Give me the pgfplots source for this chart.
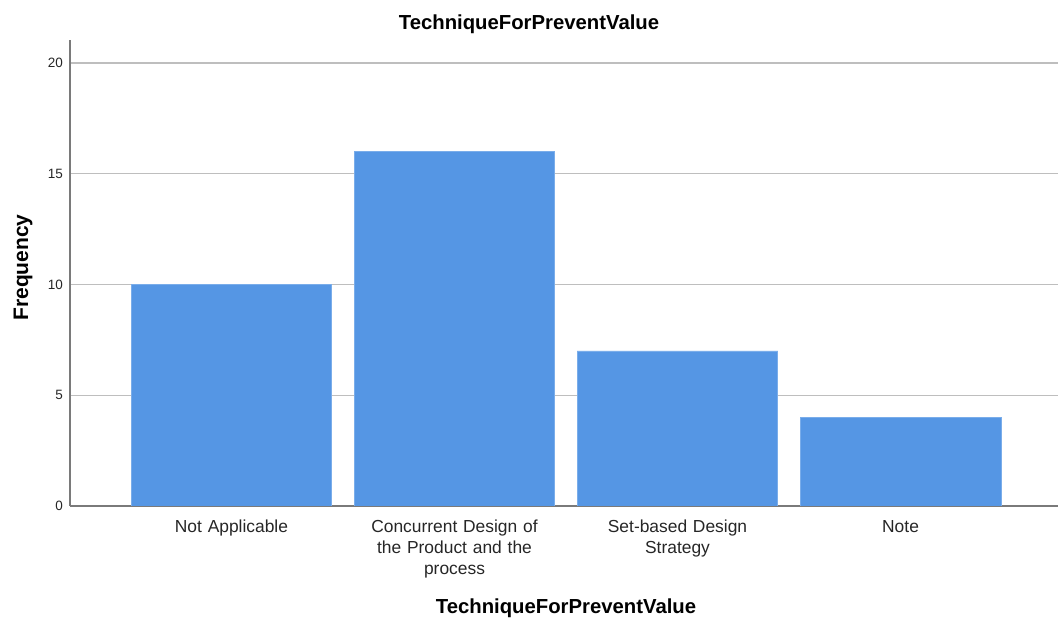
\documentclass[border=0pt]{standalone}
\usepackage{pgfplots}
\pgfplotsset{compat=1.18}
\usepackage{fontspec}
\setmainfont{Liberation Sans}
\definecolor{barblue}{HTML}{5596E4}
\definecolor{baredge}{HTML}{7AADEA}
\definecolor{gridgray}{HTML}{BEBEBE}
\definecolor{axisgray}{HTML}{7A7A7A}
\begin{document}
\begin{tikzpicture}[x=1pt,y=1pt]
\path[use as bounding box] (0,0) rectangle (1058,624);
\begin{axis}[
  at={(70pt,118pt)}, anchor=south west,
  scale only axis, width=988pt, height=466pt,
  xmin=-0.724, xmax=3.706, ymin=0, ymax=21.04,
  axis x line*=bottom, axis y line*=left,
  axis line style={axisgray, line width=1.3pt, -},
  ytick={0,5,10,15,20},
  xtick={0,1,2,3},
  xticklabels={{Not Applicable},{Concurrent Design of\\the Product and the\\process},{Set-based Design\\Strategy},{Note}},
  major tick length=0pt,
  ymajorgrids,
  grid style={gridgray, line width=1.3pt},
  /pgf/number format/assume math mode=true,
  yticklabel style={font=\fontsize{13.5}{15}\selectfont, text=black!85, inner sep=0pt, xshift=-7pt},
  xticklabel style={font=\fontsize{17.4}{21}\selectfont, text=black!85, align=center, text width=220pt, anchor=north, inner sep=0pt, yshift=-14pt},
  ybar, bar width=0.9,
]
\addplot[fill=barblue, draw=baredge, line width=0.8pt] coordinates {(0,10) (1,16) (2,7) (3,4)};
\end{axis}
\node[anchor=base, font=\fontsize{20.3}{24}\selectfont\bfseries] at (529,594) {TechniqueForPreventValue};
\node[anchor=base, font=\fontsize{20.3}{24}\selectfont\bfseries] at (566,10) {TechniqueForPreventValue};
\node[anchor=base, rotate=90, font=\fontsize{21}{24}\selectfont\bfseries] at (28,356.5) {Frequency};
\end{tikzpicture}
\end{document}
